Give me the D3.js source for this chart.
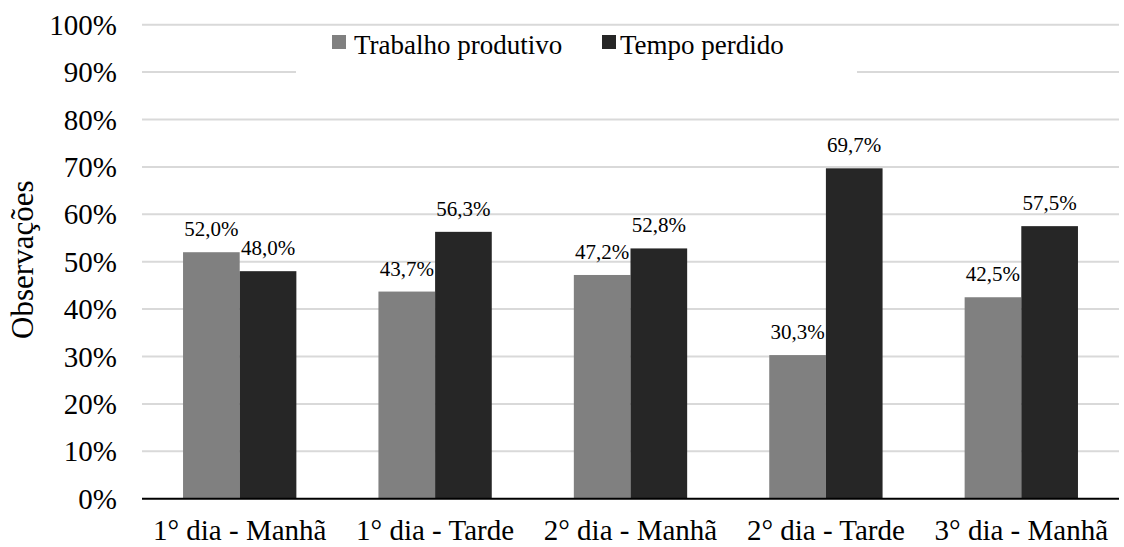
<!DOCTYPE html>
<html>
<head>
<meta charset="utf-8">
<script src="https://cdn.jsdelivr.net/npm/d3@7"></script>
<style>
  body { margin: 0; background: #fff; }
  svg { font-family: "Liberation Serif", "Times New Roman", serif; }
</style>
</head>
<body>
<div id="chart"></div>
<script>
// data
const categories = ["1° dia - Manhã", "1° dia - Tarde", "2° dia - Manhã", "2° dia - Tarde", "3° dia - Manhã"];
const seriesNames = ["Trabalho produtivo", "Tempo perdido"];
const produtivo = [52.0, 43.7, 47.2, 30.3, 42.5];
const perdido = [48.0, 56.3, 52.8, 69.7, 57.5];
const yTicks = [0, 10, 20, 30, 40, 50, 60, 70, 80, 90, 100];

const colors = { "Trabalho produtivo": "#808080", "Tempo perdido": "#262626" };

const width = 1124, height = 547;
const margin = { top: 24.7, right: 5, bottom: 48.3, left: 142 };

const rows = categories.map((c, i) => ({
  cat: c,
  values: [
    { key: seriesNames[0], val: produtivo[i] },
    { key: seriesNames[1], val: perdido[i] }
  ]
}));

const svg = d3.select("#chart").append("svg")
  .attr("width", width)
  .attr("height", height);

const x0 = d3.scaleBand()
  .domain(categories)
  .range([margin.left, width - margin.right])
  .paddingInner(0.42)
  .paddingOuter(0.21);

const x1 = d3.scaleBand()
  .domain(seriesNames)
  .range([0, x0.bandwidth()]);

const y = d3.scaleLinear()
  .domain([0, 100])
  .range([height - margin.bottom, margin.top]);

// gridlines
svg.append("g")
  .selectAll("line")
  .data(yTicks.filter(d => d > 0))
  .enter().append("line")
  .attr("x1", margin.left)
  .attr("x2", width - margin.right)
  .attr("y1", d => y(d))
  .attr("y2", d => y(d))
  .attr("stroke", "#d9d9d9")
  .attr("stroke-width", 2);

// y tick labels
svg.append("g")
  .selectAll("text")
  .data(yTicks)
  .enter().append("text")
  .attr("x", 117)
  .attr("y", d => y(d))
  .attr("dy", "0.35em")
  .attr("text-anchor", "end")
  .attr("font-size", "29px")
  .attr("fill", "#000")
  .text(d => d + "%");

// y title
svg.append("text")
  .attr("transform", `translate(33, ${(margin.top + height - margin.bottom) / 2 - 2}) rotate(-90)`)
  .attr("text-anchor", "middle")
  .attr("font-size", "31px")
  .attr("fill", "#000")
  .text("Observações");

// legend (white box hides the gridline behind it)
const legend = svg.append("g");
legend.append("rect")
  .attr("x", 296).attr("y", 30)
  .attr("width", 561).attr("height", 50)
  .attr("fill", "#fff");

const legendItems = [
  { key: seriesNames[0], sx: 332, tx: 354 },
  { key: seriesNames[1], sx: 602, tx: 620 }
];
legendItems.forEach(d => {
  legend.append("rect")
    .attr("x", d.sx).attr("y", 35)
    .attr("width", 14).attr("height", 14)
    .attr("fill", colors[d.key]);
  legend.append("text")
    .attr("x", d.tx).attr("y", 54)
    .attr("font-size", "27px")
    .attr("fill", "#000")
    .text(d.key);
});

// bars
const fmt = d3.format(".1f");
const groups = svg.append("g")
  .selectAll("g")
  .data(rows)
  .enter().append("g")
  .attr("transform", d => `translate(${x0(d.cat)},0)`);

groups.selectAll("rect")
  .data(d => d.values)
  .enter().append("rect")
  .attr("x", d => x1(d.key))
  .attr("y", d => y(d.val))
  .attr("width", x1.bandwidth())
  .attr("height", d => y(0) - y(d.val))
  .attr("fill", d => colors[d.key]);

groups.selectAll("text")
  .data(d => d.values)
  .enter().append("text")
  .attr("x", d => x1(d.key) + x1.bandwidth() / 2)
  .attr("y", d => y(d.val) - 16)
  .attr("text-anchor", "middle")
  .attr("font-size", "21px")
  .attr("fill", "#000")
  .text(d => fmt(d.val).replace(".", ",") + "%");

// x axis line
svg.append("line")
  .attr("x1", margin.left)
  .attr("x2", width - margin.right)
  .attr("y1", y(0))
  .attr("y2", y(0))
  .attr("stroke", "#000")
  .attr("stroke-width", 2);

// category labels
svg.append("g")
  .selectAll("text")
  .data(categories)
  .enter().append("text")
  .attr("x", d => x0(d) + x0.bandwidth() / 2)
  .attr("y", y(0) + 41)
  .attr("text-anchor", "middle")
  .attr("font-size", "29px")
  .attr("fill", "#000")
  .text(d => d);
</script>
</body>
</html>
